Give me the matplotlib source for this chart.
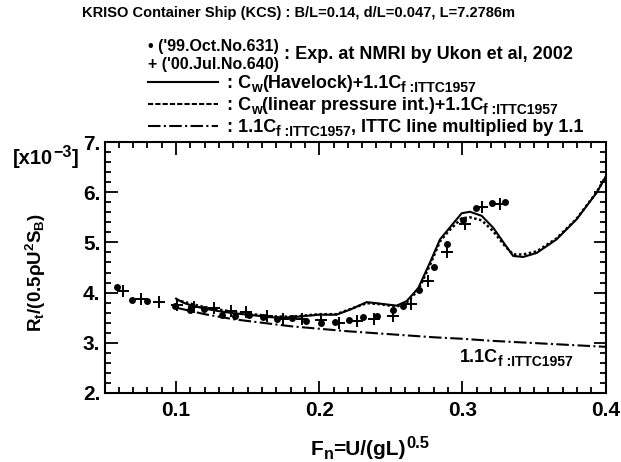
import matplotlib
matplotlib.use('Agg')
import matplotlib.pyplot as plt
from matplotlib.lines import Line2D
from matplotlib.ticker import MultipleLocator, FixedLocator, FuncFormatter

plt.rcParams['font.family'] = 'Liberation Sans'
plt.rcParams['font.weight'] = 'bold'
plt.rcParams['mathtext.fontset'] = 'custom'
plt.rcParams['mathtext.rm'] = 'Liberation Sans:bold'
plt.rcParams['mathtext.it'] = 'Liberation Sans:bold'
plt.rcParams['mathtext.bf'] = 'Liberation Sans:bold'
plt.rcParams['mathtext.sf'] = 'Liberation Sans'

# ---- data (values x1e-3) ----
exp631_fn = [0.059, 0.0693, 0.0795, 0.0993, 0.1098, 0.1198, 0.1319, 0.1412, 0.151,
             0.161, 0.1707, 0.1808, 0.1908, 0.2013, 0.211, 0.221, 0.2304, 0.2401,
             0.2513, 0.2587, 0.2697, 0.2802, 0.2895, 0.3002, 0.3095, 0.3205, 0.3297]
exp631_rt = [4.11, 3.86, 3.83, 3.73, 3.66, 3.67, 3.56, 3.54, 3.56,
             3.51, 3.47, 3.49, 3.43, 3.40, 3.41, 3.46, 3.51, 3.53,
             3.65, 3.73, 4.06, 4.51, 4.96, 5.44, 5.69, 5.79, 5.81]

exp640_fn = [0.0628, 0.0753, 0.0883, 0.1007, 0.1128, 0.1265, 0.1384, 0.1489, 0.1633,
             0.1749, 0.1882, 0.2013, 0.2138, 0.2262, 0.2385, 0.2517, 0.2641, 0.2762,
             0.2890, 0.3018, 0.3139, 0.3263]
exp640_rt = [4.03, 3.87, 3.81, 3.75, 3.71, 3.69, 3.63, 3.61, 3.53,
             3.48, 3.47, 3.45, 3.39, 3.43, 3.48, 3.54, 3.77, 4.23,
             4.81, 5.36, 5.71, 5.77]

havelock_fn = [0.100, 0.105, 0.11, 0.12, 0.13, 0.14, 0.15, 0.16, 0.1656, 0.175, 0.185,
               0.200, 0.212, 0.2215, 0.2332, 0.2425, 0.2541, 0.2611, 0.2692, 0.2774,
               0.2844, 0.2902, 0.2995, 0.3053, 0.3135, 0.3216, 0.3297, 0.3355, 0.3425,
               0.3519, 0.3658, 0.3798, 0.3938, 0.400]
havelock_rt = [3.88, 3.80, 3.75, 3.68, 3.63, 3.59, 3.56, 3.53, 3.51, 3.50, 3.52,
               3.56, 3.56, 3.66, 3.81, 3.78, 3.74, 3.83, 4.09, 4.60,
               5.06, 5.26, 5.58, 5.61, 5.53, 5.29, 4.96, 4.73, 4.71,
               4.79, 5.06, 5.46, 5.99, 6.30]

linpress_fn = havelock_fn
linpress_rt = [3.85, 3.82, 3.78, 3.71, 3.66, 3.62, 3.58, 3.55, 3.53, 3.52, 3.53,
               3.57, 3.57, 3.67, 3.79, 3.77, 3.72, 3.80, 4.05, 4.55,
               5.02, 5.22, 5.48, 5.50, 5.44, 5.22, 4.93, 4.76, 4.76,
               4.82, 5.08, 5.47, 6.00, 6.30]

ittc_fn = [0.10, 0.12, 0.14, 0.16, 0.18, 0.20, 0.22, 0.24, 0.26, 0.28, 0.30,
           0.32, 0.34, 0.36, 0.38, 0.40]
ittc_rt = [3.70, 3.57, 3.47, 3.40, 3.33, 3.28, 3.23, 3.19, 3.15, 3.11, 3.08,
           3.04, 3.01, 2.98, 2.95, 2.92]

x_major = [0.1, 0.2, 0.3, 0.4]
y_major = [2, 3, 4, 5, 6, 7]

W, H = 621, 462
def fx(px):
    return px / W
def fy(py):
    return 1 - py / H

fig = plt.figure(figsize=(6.21, 4.62), dpi=100)
renderer = fig.canvas.get_renderer()


def rich(x0, ybase, parts, ha='left'):
    """Draw text segments (text, size, dy_px) one after another, baseline-aligned."""
    items = []
    for s, size, dy in parts:
        t = fig.text(0, 0, s, fontsize=size, fontweight='bold', ha='left', va='baseline')
        w = t.get_window_extent(renderer).width
        items.append((t, w, dy))
    total = sum(w for _, w, _ in items)
    if ha == 'center':
        x = x0 - total / 2
    elif ha == 'right':
        x = x0 - total
    else:
        x = x0
    for t, w, dy in items:
        t.set_position((fx(x), fy(ybase + dy)))
        x += w
    return x


ax = fig.add_axes([fx(104.5), fy(393), (605.5 - 104.5) / W, (393 - 142) / H])

ax.plot(havelock_fn, havelock_rt, color='k', lw=1.5, ls='-')
ax.plot(linpress_fn, linpress_rt, color='k', lw=1.8, ls=(0, (1, 1)))
ax.plot(ittc_fn, ittc_rt, color='k', lw=1.5, ls=(0, (6, 1.6, 1, 1.6)))
ax.plot(exp631_fn, exp631_rt, 'o', color='k', ms=5, mew=0)
ax.plot(exp640_fn, exp640_rt, '+', color='k', ms=9, mew=1.4)

ax.set_xlim(0.05, 0.4)
ax.set_ylim(2, 7)
ax.xaxis.set_major_locator(FixedLocator(x_major))
ax.xaxis.set_minor_locator(MultipleLocator(0.01))
ax.yaxis.set_major_locator(FixedLocator(y_major))
ax.yaxis.set_minor_locator(MultipleLocator(0.2))
ax.yaxis.set_major_formatter(FuncFormatter(lambda v, p: '%d.' % round(v)))
ax.xaxis.set_major_formatter(FuncFormatter(lambda v, p: '%.1f' % v))
ax.tick_params(which='both', direction='in', top=True, right=True, width=1.3,
               labelsize=15)
ax.tick_params(which='major', length=9)
ax.tick_params(which='minor', length=4.5)
ax.tick_params(axis='x', which='major', pad=6)
ax.tick_params(axis='y', which='major', pad=3)
for s in ax.spines.values():
    s.set_linewidth(1.5)

MAIN = 13
SUB = 10
SUBDY = 4

# label next to the ITTC line inside the axes
rich(460, 362, [('1.1C', MAIN, 0), ('f :ITTC1957', SUB, SUBDY)])

# axis labels
fig.text(fx(36), fy(272), r'R$_t$/(0.5$\mathsf{\rho}$U$^2$S$_B$)', rotation=90,
         fontsize=13.5, fontweight='bold', ha='center', va='center')
rich(370, 455, [('F', 15, 0), ('n', 11.5, 4), ('=U/(gL)', 15, 0), ('0.5', 12, -7)],
     ha='center')
rich(78, 164, [('[x10', 14.5, 0), ('\u22123', 11.5, -7), (']', 14.5, 0)], ha='right')

# title and legend block
fig.text(fx(298), fy(17), 'KRISO Container Ship (KCS) : B/L=0.14, d/L=0.047, L=7.2786m',
         fontsize=10.5, fontweight='bold', ha='center', va='baseline')
fig.text(fx(148), fy(51), "\u2022 ('99.Oct.No.631)", fontsize=11.5, fontweight='bold',
         ha='left', va='baseline')
fig.text(fx(148), fy(69), "+ ('00.Jul.No.640)", fontsize=11.5, fontweight='bold',
         ha='left', va='baseline')
fig.text(fx(284), fy(59), ': Exp. at NMRI by Ukon et al, 2002', fontsize=MAIN,
         fontweight='bold', ha='left', va='baseline')

rows = [
    (88, '-', [(': C', MAIN, 0), ('w', SUB, SUBDY), ('(Havelock)+1.1C', MAIN, 0),
               ('f :ITTC1957', SUB, SUBDY)]),
    (110, (0, (2.5, 1.0)), [(': C', MAIN, 0), ('w', SUB, SUBDY),
                            ('(linear pressure int.)+1.1C', MAIN, 0),
                            ('f :ITTC1957', SUB, SUBDY)]),
    (132, (0, (6, 1.6, 1, 1.6)), [(': 1.1C', MAIN, 0), ('f :ITTC1957', SUB, SUBDY),
                                  (', ITTC line multiplied by 1.1', MAIN, 0)]),
]
for base, ls, parts in rows:
    yl = fy(base - 6)
    fig.add_artist(Line2D([fx(148), fx(218)], [yl, yl], color='k', lw=1.5, ls=ls))
    rich(227, base, parts)

fig.savefig('out.png', dpi=100)
